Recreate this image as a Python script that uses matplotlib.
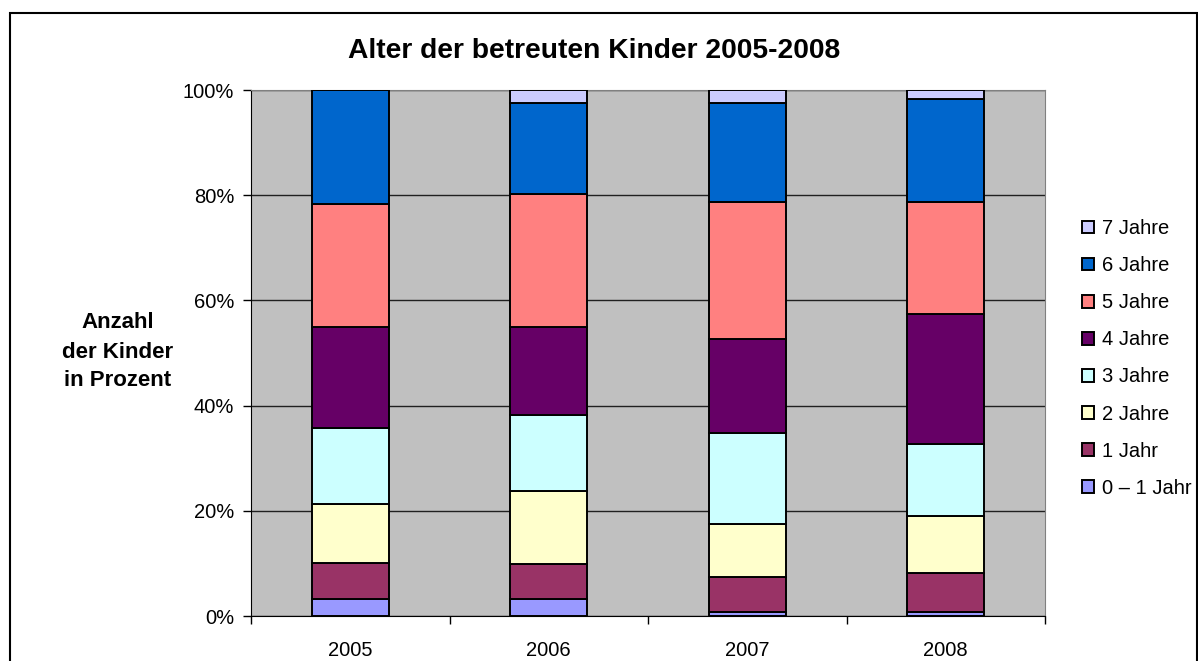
import numpy as np
import matplotlib
matplotlib.use("Agg")
import matplotlib.pyplot as plt
from matplotlib.patches import Patch, Rectangle

plt.rcParams['font.family'] = ['Liberation Sans', 'DejaVu Sans']

years = ['2005', '2006', '2007', '2008']
age_groups = ['0 – 1 Jahr', '1 Jahr', '2 Jahre', '3 Jahre', '4 Jahre', '5 Jahre', '6 Jahre', '7 Jahre']
# percentage share per age group, one list per group (2005..2008)
share_0_1 = [3.2, 3.2, 0.7, 0.7]
share_1 = [6.9, 6.6, 6.8, 7.4]
share_2 = [11.1, 14.0, 10.0, 10.9]
share_3 = [14.6, 14.5, 17.3, 13.7]
share_4 = [19.1, 16.6, 17.9, 24.8]
share_5 = [23.4, 25.3, 26.1, 21.2]
share_6 = [21.7, 17.3, 18.7, 19.6]
share_7 = [0.0, 2.5, 2.5, 1.7]
shares = [share_0_1, share_1, share_2, share_3, share_4, share_5, share_6, share_7]
colors = ['#9999FF', '#993366', '#FFFFCC', '#CCFFFF', '#660066', '#FF8080', '#0066CC', '#CCCCFF']

fig = plt.figure(figsize=(11.98, 6.61), dpi=100)
ax = fig.add_axes([251 / 1198, 45 / 661, 794 / 1198, 526 / 661])
ax.set_facecolor('#C0C0C0')

x = np.arange(len(years))
bottom = np.zeros(len(years))
for vals, col in zip(shares, colors):
    v = np.array(vals)
    ax.bar(x, v, 0.39, bottom=bottom, color=col, edgecolor='black', linewidth=1.4, zorder=3)
    bottom += v

ax.set_xlim(-0.5, 3.5)
ax.set_ylim(0, 100)
ax.set_yticks(np.arange(0, 101, 20))
ax.set_yticklabels(['%d%%' % t for t in range(0, 101, 20)], fontsize=14.5)
ax.yaxis.grid(True, color='#202020', linewidth=1.0, zorder=0)
ax.set_axisbelow(True)
ax.tick_params(axis='y', length=6, width=1, pad=6)

ax.set_xticks(x)
ax.set_xticklabels(years, fontsize=14.5)
ax.set_xticks(np.arange(-0.5, 3.6, 1), minor=True)
ax.tick_params(axis='x', which='major', length=0, pad=18)
ax.tick_params(axis='x', which='minor', length=6, width=1)

for s in ['top', 'right']:
    ax.spines[s].set_color('#808080')
for s in ['left', 'bottom']:
    ax.spines[s].set_color('black')

fig.text(594 / 1198, 1 - 51 / 661, 'Alter der betreuten Kinder 2005-2008',
         fontsize=20.3, fontweight='bold', ha='center', va='center')
fig.text(118 / 1198, 1 - 352 / 661, 'Anzahl\nder Kinder\nin Prozent',
         fontsize=16, fontweight='bold', ha='center', va='center', linespacing=1.5)

handles = [Patch(facecolor=c, edgecolor='black', linewidth=1.4) for c in colors]
fig.legend(handles[::-1], age_groups[::-1], loc='upper left',
           bbox_to_anchor=(1082 / 1198, 1 - 219 / 661), frameon=False,
           fontsize=14.5, handlelength=0.6, handleheight=0.6,
           handletextpad=0.4, labelspacing=0.9, borderpad=0, borderaxespad=0)

fig.patches.append(Rectangle((10 / 1198, -0.05), 1187 / 1198, 0.05 + 648 / 661,
                             transform=fig.transFigure, fill=False,
                             edgecolor='black', linewidth=1.5))

fig.savefig('out.png', dpi=100)
